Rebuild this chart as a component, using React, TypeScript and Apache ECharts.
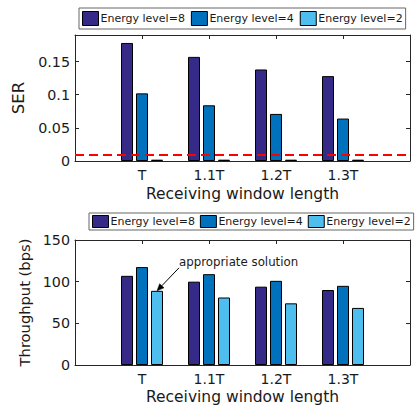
import React, { useEffect, useRef } from "react";
import * as echarts from "echarts";

const categories = ["T", "1.1T", "1.2T", "1.3T"];
const axisCats = ["", ...categories, ""];
const seriesNames = ["Energy level=8", "Energy level=4", "Energy level=2"];
const serLevel8 = [0.178, 0.157, 0.138, 0.128];
const serLevel4 = [0.102, 0.084, 0.071, 0.064];
const serLevel2 = [0.002, 0.002, 0.002, 0.002];
const serThreshold = 0.01;
const thrLevel8 = [107, 100, 94, 90];
const thrLevel4 = [117.5, 109, 101, 95];
const thrLevel2 = [89, 81, 74, 68.5];
const serTicks = { min: 0, max: 0.19, interval: 0.05 };
const thrTicks = { min: 0, max: 150, interval: 50 };
const annotationText = "appropriate solution";
const annotatedPoint = { category: "T", value: thrLevel2[0] };

const colors = ["#352A87", "#0072BD", "#4DBEEE"];
const FONT = "DejaVu Sans, Verdana, sans-serif";
const AX = "#262626";
const TXT = "#1a1a1a";

export default function App() {
  const ref = useRef<HTMLDivElement>(null);
  useEffect(() => {
    if (!ref.current) return;
    const chart = echarts.init(ref.current, undefined, { renderer: "svg" });

    const toData = (vals: number[]) => categories.map((c, i) => [c, vals[i]]);

    const xBottom = (gridIndex: number, nameGap: number) => ({
      gridIndex,
      type: "category",
      data: axisCats,
      boundaryGap: false,
      position: "bottom",
      axisLine: { show: true, onZero: false, lineStyle: { color: AX, width: 1 } },
      axisTick: { show: true, inside: true, length: 4, lineStyle: { color: AX } },
      axisLabel: { interval: 0, color: TXT, fontSize: 14, fontFamily: FONT, margin: 7 },
      splitLine: { show: false },
      name: "Receiving window length",
      nameLocation: "middle",
      nameGap,
      nameTextStyle: { color: TXT, fontSize: 15.5, fontFamily: FONT },
    });
    const xTop = (gridIndex: number) => ({
      gridIndex,
      type: "category",
      data: axisCats,
      boundaryGap: false,
      position: "top",
      axisLine: { show: true, onZero: false, lineStyle: { color: AX, width: 1 } },
      axisTick: { show: true, inside: true, length: 4, lineStyle: { color: AX } },
      axisLabel: { show: false },
      splitLine: { show: false },
    });
    const yLeft = (gridIndex: number, t: any, name: string, nameGap: number, nameSize: number) => ({
      gridIndex,
      type: "value",
      position: "left",
      min: t.min,
      max: t.max,
      interval: t.interval,
      axisLine: { show: true, onZero: false, lineStyle: { color: AX, width: 1 } },
      axisTick: { show: true, inside: true, length: 4, lineStyle: { color: AX } },
      axisLabel: { color: TXT, fontSize: 14.3, fontFamily: FONT, margin: 5, showMaxLabel: t.max % t.interval === 0 },
      splitLine: { show: false },
      name,
      nameLocation: "middle",
      nameGap,
      nameTextStyle: { color: TXT, fontSize: nameSize, fontFamily: FONT },
    });
    const yRight = (gridIndex: number, t: any) => ({
      gridIndex,
      type: "value",
      position: "right",
      min: t.min,
      max: t.max,
      interval: t.interval,
      axisLine: { show: true, onZero: false, lineStyle: { color: AX, width: 1 } },
      axisTick: { show: true, inside: true, length: 4, lineStyle: { color: AX } },
      axisLabel: { show: false },
      splitLine: { show: false },
    });

    const bar = (name: string, idx: number, vals: number[], axis: number, extra: any = {}) => ({
      type: "bar",
      name,
      xAxisIndex: axis,
      yAxisIndex: axis,
      data: toData(vals),
      barWidth: 12,
      barGap: "25%",
      itemStyle: { color: colors[idx], borderColor: "#000", borderWidth: 1 },
      emphasis: { disabled: true },
      ...extra,
    });

    const legend = (left: number, top: number, pad: number[], itemHeight: number, itemGap: number) => ({
      left,
      top,
      width: 360,
      orient: "horizontal",
      data: seriesNames,
      icon: "rect",
      itemWidth: 16,
      itemHeight,
      itemGap,
      padding: pad,
      borderColor: "#666",
      borderWidth: 1,
      backgroundColor: "#fff",
      selectedMode: false,
      itemStyle: { borderColor: "#000", borderWidth: 1 },
      textStyle: { color: TXT, fontSize: 11, fontFamily: FONT, padding: [0, 0, 0, -3] },
    });

    chart.setOption({
      animation: false,
      backgroundColor: "#fff",
      textStyle: { fontFamily: FONT },
      legend: [legend(79, 8, [3, 3, 3, 3], 14, 6), legend(89, 213, [2, 3, 2, 3], 12, 5)],
      grid: [
        { left: 75, right: 5, top: 35, height: 126, show: false },
        { left: 75, right: 5, top: 240, height: 125, show: false },
      ],
      xAxis: [xBottom(0, 25), xTop(0), xBottom(1, 24), xTop(1)],
      yAxis: [
        yLeft(0, serTicks, "SER", 37, 16.5),
        yRight(0, serTicks),
        yLeft(1, thrTicks, "Throughput (bps)", 24, 14.7),
        yRight(1, thrTicks),
      ],
      series: [
        bar(seriesNames[0], 0, serLevel8, 0),
        bar(seriesNames[1], 1, serLevel4, 0),
        bar(seriesNames[2], 2, serLevel2, 0, {
          markLine: {
            silent: true,
            symbol: "none",
            label: { show: false },
            lineStyle: { color: "#FF0000", width: 2, type: [9, 5] },
            data: [{ yAxis: serThreshold }],
          },
        }),
        bar(seriesNames[0], 0, thrLevel8, 2),
        bar(seriesNames[1], 1, thrLevel4, 2),
        bar(seriesNames[2], 2, thrLevel2, 2),
      ],
    });

    // annotation arrow anchored at the data point of the 3rd bar in group T
    const p = chart.convertToPixel({ xAxisIndex: 2, yAxisIndex: 2 }, [annotatedPoint.category, annotatedPoint.value]) as number[];
    if (p) {
      const tip = [p[0] + 15, p[1]];
      const start = [tip[0] + 22, tip[1] - 23];
      const dx = tip[0] - start[0];
      const dy = tip[1] - start[1];
      const len = Math.sqrt(dx * dx + dy * dy);
      const ux = dx / len, uy = dy / len;
      const hl = 7, hw = 3;
      const base = [tip[0] - ux * hl, tip[1] - uy * hl];
      const left = [base[0] - uy * hw, base[1] + ux * hw];
      const right = [base[0] + uy * hw, base[1] - ux * hw];
      chart.setOption({
        graphic: [
          {
            type: "line",
            shape: { x1: start[0], y1: start[1], x2: base[0], y2: base[1] },
            style: { stroke: "#000", lineWidth: 1 },
            silent: true,
          },
          {
            type: "polygon",
            shape: { points: [tip, left, right] },
            style: { fill: "#000", stroke: "#000", lineWidth: 0.5 },
            silent: true,
          },
          {
            type: "text",
            x: start[0],
            y: start[1] - 5.5,
            style: {
              text: annotationText,
              fill: TXT,
              fontSize: 11.8,
              fontFamily: FONT,
              verticalAlign: "middle",
              align: "left",
            },
            silent: true,
          },
        ],
      });
    }

    return () => chart.dispose();
  }, []);

  return (
    <div
      ref={ref}
      style={{ position: "fixed", left: 0, top: 0, width: 415, height: 410, background: "#fff" }}
    />
  );
}
